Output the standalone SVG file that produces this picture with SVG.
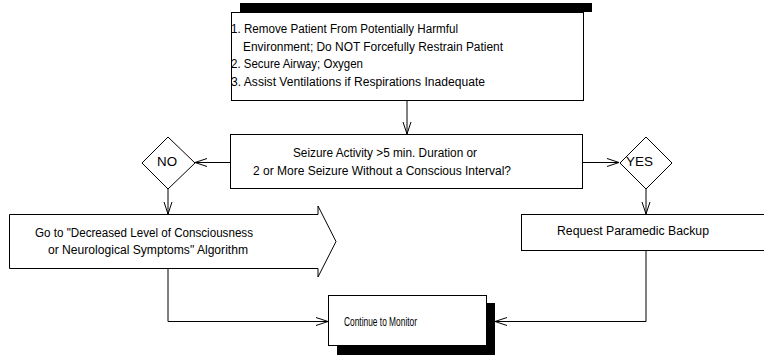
<svg xmlns="http://www.w3.org/2000/svg" width="764" height="356" viewBox="0 0 764 356">
<style>
text{font-family:"Liberation Sans Narrow","Liberation Sans",Arial,sans-serif;font-size:12.5px;fill:#000}
.box{fill:#fff;stroke:#000;stroke-width:1}
.shadow{fill:#000;stroke:none}
.conn{fill:none;stroke:#000;stroke-width:1}
</style>
<defs>
<marker id="arr" markerUnits="userSpaceOnUse" markerWidth="16" markerHeight="12" refX="13" refY="5" orient="auto" overflow="visible">
<path d="M1,1 L13,5 L1,9" fill="none" stroke="#000" stroke-width="1"/>
</marker>
</defs>
<rect width="764" height="356" fill="#fff"/>
<g id="connectors">
<line class="conn" x1="407" y1="100" x2="407" y2="134" marker-end="url(#arr)"/>
<line class="conn" x1="230" y1="162.5" x2="195" y2="162.5" marker-end="url(#arr)"/>
<line class="conn" x1="583" y1="162.5" x2="619" y2="162.5" marker-end="url(#arr)"/>
<line class="conn" x1="168" y1="189" x2="168" y2="214" marker-end="url(#arr)"/>
<line class="conn" x1="646" y1="189" x2="646" y2="214" marker-end="url(#arr)"/>
<polyline class="conn" points="168,269 168,321.5 328,321.5" marker-end="url(#arr)"/>
<polyline class="conn" points="646,251 646,321.5 495,321.5" marker-end="url(#arr)"/>
</g>
<g id="node-initial">
<rect class="shadow" x="240" y="3" width="352" height="9"/>
<rect class="box" x="231.5" y="12.5" width="352" height="88"/>
<text x="231" y="33" textLength="227" lengthAdjust="spacingAndGlyphs">1. Remove Patient From Potentially Harmful</text>
<text x="243" y="51" textLength="260" lengthAdjust="spacingAndGlyphs">Environment; Do NOT Forcefully Restrain Patient</text>
<text x="231" y="68" textLength="132" lengthAdjust="spacingAndGlyphs">2. Secure Airway; Oxygen</text>
<text x="231" y="86" textLength="254" lengthAdjust="spacingAndGlyphs">3. Assist Ventilations if Respirations Inadequate</text>
</g>
<g id="node-seizure">
<rect class="box" x="230.5" y="134.5" width="352" height="54"/>
<text x="293" y="157" textLength="184" lengthAdjust="spacingAndGlyphs">Seizure Activity &gt;5 min. Duration or</text>
<text x="253" y="175" textLength="258" lengthAdjust="spacingAndGlyphs">2 or More Seizure Without a Conscious Interval?</text>
</g>
<g id="node-no">
<polygon class="box" points="168,137 195,163 168,189 142,163"/>
<text x="157" y="166" textLength="20" lengthAdjust="spacingAndGlyphs">NO</text>
</g>
<g id="node-yes">
<polygon class="box" points="646,137 672,163 646,189 620,163"/>
<text x="626" y="166" textLength="27" lengthAdjust="spacingAndGlyphs">YES</text>
</g>
<g id="node-goto">
<polygon class="box" points="9.5,214.5 318,214.5 318,206 336,241.5 318,277 318,268.5 9.5,268.5"/>
<text x="35" y="237" textLength="218" lengthAdjust="spacingAndGlyphs">Go to "Decreased Level of Consciousness</text>
<text x="48" y="254" textLength="200" lengthAdjust="spacingAndGlyphs">or Neurological Symptoms" Algorithm</text>
</g>
<g id="node-backup">
<rect class="box" x="521.5" y="214.5" width="260" height="36"/>
<text x="557" y="235" textLength="152" lengthAdjust="spacingAndGlyphs">Request Paramedic Backup</text>
</g>
<g id="node-continue">
<rect class="shadow" x="337" y="303" width="158" height="52"/>
<rect class="box" x="328.5" y="295.5" width="158" height="50"/>
<text x="344" y="326" textLength="73" lengthAdjust="spacingAndGlyphs">Continue to Monitor</text>
</g>
</svg>
